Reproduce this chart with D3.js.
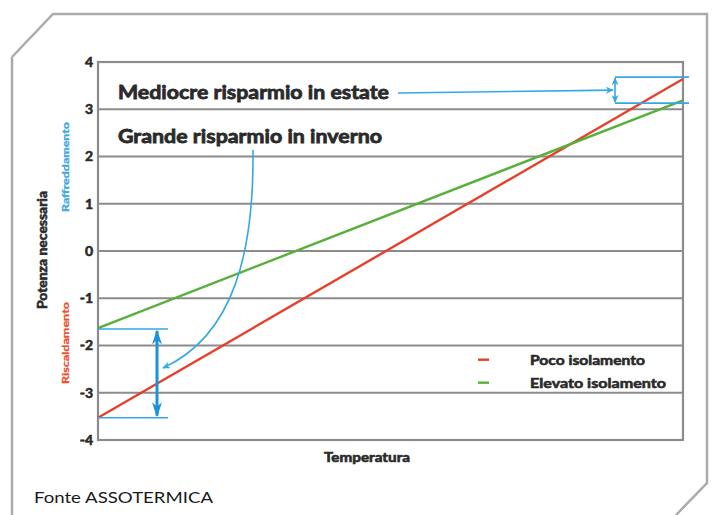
<!DOCTYPE html>
<html>
<head>
<meta charset="utf-8">
<script src="https://cdn.jsdelivr.net/npm/d3@7"></script>
<style>
  html, body { margin: 0; padding: 0; background: #fff; }
  svg { display: block; }
  text { font-family: Lato, "Open Sans", sans-serif; }
</style>
</head>
<body>
<svg id="chart" width="714" height="515"></svg>
<script>
// Temperature axis has no scale values: the two ends of each line
const temperature = [0, 1];
const pocoIsolamento = [-3.53, 3.64];
const elevatoIsolamento = [-1.63, 3.19];
const yTicks = [-4, -3, -2, -1, 0, 1, 2, 3, 4];
const seriesNames = ["Poco isolamento", "Elevato isolamento"];
const seriesColors = ["#e6402b", "#56b03a"];
// Ranges marked by the blue brackets
const summerRange = [3.13, 3.68];
const winterRange = [-3.53, -1.65];

const svg = d3.select("#chart");
const m = { left: 98, right: 683, top: 62, bottom: 440 };

const x = d3.scaleLinear().domain([0, 1]).range([m.left, m.right]);
const y = d3.scaleLinear().domain([-4, 4]).range([m.bottom, m.top]);

const blue = "#35a7e3";
const darkBlue = "#1b93d8";
const ink = "#2a2a2a";

// Heavy text: bold glyphs thickened with a thin outline of the same colour
function heavy(sel, w) {
  return sel.attr("font-weight", 700).attr("stroke", sel.attr("fill"))
    .attr("stroke-width", w).attr("paint-order", "stroke");
}

// Outer frame with chamfered corners
svg.append("path")
  .attr("d", "M12,57 L53,14 L707,14 L707,483 L676,515 M12,57 L12,515")
  .attr("fill", "none").attr("stroke", "#ababab").attr("stroke-width", 2.5);

// Horizontal gridlines
svg.append("g").selectAll("line").data(yTicks.filter(d => d > -4 && d < 4)).join("line")
  .attr("x1", m.left).attr("x2", m.right)
  .attr("y1", d => y(d)).attr("y2", d => y(d))
  .attr("stroke", "#8c8c8c").attr("stroke-width", 2.2);

// Plot frame
svg.append("rect")
  .attr("x", m.left).attr("y", m.top)
  .attr("width", m.right - m.left).attr("height", m.bottom - m.top)
  .attr("fill", "none").attr("stroke", "#8c8c8c").attr("stroke-width", 2.2);

// Y axis labels (plain hyphen for negatives)
const yAxis = d3.axisLeft(y).tickValues(yTicks).tickSize(0).tickPadding(5)
  .tickFormat(d => String(d));
const ga = svg.append("g").attr("transform", `translate(${m.left},0)`).call(yAxis);
ga.select(".domain").remove();
ga.selectAll("text")
  .attr("font-family", "Lato, sans-serif")
  .attr("font-size", 14).attr("fill", ink)
  .call(s => heavy(s, 0.6));

// Axis titles
svg.append("text")
  .attr("transform", `translate(47,250) rotate(-90)`)
  .attr("text-anchor", "middle").attr("font-size", 13)
  .attr("fill", ink).attr("textLength", 118).attr("lengthAdjust", "spacingAndGlyphs")
  .text("Potenza necessaria").call(s => heavy(s, 0.6));
svg.append("text")
  .attr("transform", `translate(69,167) rotate(-90)`)
  .attr("text-anchor", "middle").attr("font-size", 10)
  .attr("fill", "#3aa8e4").attr("textLength", 90).attr("lengthAdjust", "spacingAndGlyphs")
  .text("Raffreddamento").call(s => heavy(s, 0.3));
svg.append("text")
  .attr("transform", `translate(69,343) rotate(-90)`)
  .attr("text-anchor", "middle").attr("font-size", 10)
  .attr("fill", "#e8512f").attr("textLength", 82).attr("lengthAdjust", "spacingAndGlyphs")
  .text("Riscaldamento").call(s => heavy(s, 0.3));
svg.append("text")
  .attr("x", 367).attr("y", 462)
  .attr("text-anchor", "middle").attr("font-size", 13)
  .attr("fill", ink).attr("textLength", 86).attr("lengthAdjust", "spacingAndGlyphs")
  .text("Temperatura").call(s => heavy(s, 0.6));

// Series lines
const line = d3.line().x(d => x(d[0])).y(d => y(d[1]));
[pocoIsolamento, elevatoIsolamento].forEach((vals, i) => {
  svg.append("path")
    .datum(temperature.map((t, j) => [t, vals[j]]))
    .attr("d", line)
    .attr("fill", "none").attr("stroke", seriesColors[i]).attr("stroke-width", 2.4);
});

// Arrowhead markers
const defs = svg.append("defs");
function marker(id, color, w, h) {
  defs.append("marker").attr("id", id)
    .attr("viewBox", "0 0 10 10").attr("refX", 9).attr("refY", 5)
    .attr("markerWidth", w).attr("markerHeight", h)
    .attr("orient", "auto-start-reverse").attr("markerUnits", "userSpaceOnUse")
    .attr("preserveAspectRatio", "none")
    .append("path").attr("d", "M0,0 L10,5 L0,10 L3,5 Z").attr("fill", color);
}
marker("arrThin", blue, 8, 7);
marker("arrThick", darkBlue, 15, 10);

// Winter bracket: guides and double arrow
const wx1 = m.left, wx2 = 168, wxa = 157;
winterRange.forEach(v => {
  svg.append("line").attr("x1", wx1).attr("x2", wx2)
    .attr("y1", y(v)).attr("y2", y(v))
    .attr("stroke", blue).attr("stroke-width", 1.6);
});
svg.append("line")
  .attr("x1", wxa).attr("x2", wxa)
  .attr("y1", y(winterRange[1]) + 2).attr("y2", y(winterRange[0]) - 2)
  .attr("stroke", darkBlue).attr("stroke-width", 3)
  .attr("marker-start", "url(#arrThick)").attr("marker-end", "url(#arrThick)");

// Summer bracket at the right end
const sx1 = 615, sx2 = 689;
const sMid = (y(summerRange[0]) + y(summerRange[1])) / 2;
summerRange.forEach(v => {
  svg.append("line").attr("x1", sx1).attr("x2", sx2)
    .attr("y1", y(v)).attr("y2", y(v))
    .attr("stroke", blue).attr("stroke-width", 1.6);
});
[summerRange[1], summerRange[0]].forEach((v, i) => {
  svg.append("line")
    .attr("x1", sx1).attr("x2", sx1)
    .attr("y1", sMid).attr("y2", y(v) + (i === 0 ? 1 : -1))
    .attr("stroke", blue).attr("stroke-width", 1.6).attr("marker-end", "url(#arrThin)");
});

// Annotations
svg.append("text")
  .attr("x", 118).attr("y", 99)
  .attr("font-size", 19.5).attr("fill", ink)
  .attr("textLength", 271).attr("lengthAdjust", "spacingAndGlyphs")
  .text("Mediocre risparmio in estate").call(s => heavy(s, 0.8));
svg.append("path")
  .attr("d", `M398,93 L${sx1 - 2},${sMid}`)
  .attr("fill", "none").attr("stroke", blue).attr("stroke-width", 1.6)
  .attr("marker-end", "url(#arrThin)");

svg.append("text")
  .attr("x", 118).attr("y", 143)
  .attr("font-size", 19.5).attr("fill", ink)
  .attr("textLength", 264).attr("lengthAdjust", "spacingAndGlyphs")
  .text("Grande risparmio in inverno").call(s => heavy(s, 0.8));
svg.append("path")
  .attr("d", "M253,150 C254,250 235,335 163,368")
  .attr("fill", "none").attr("stroke", blue).attr("stroke-width", 1.6)
  .attr("marker-end", "url(#arrThin)");

// Legend
const legendWidths = [115, 136];
seriesNames.forEach((name, i) => {
  const ly = y(-2.3) + i * 23;
  svg.append("line").attr("x1", 478).attr("x2", 489).attr("y1", ly).attr("y2", ly)
    .attr("stroke", seriesColors[i]).attr("stroke-width", 2.4);
  svg.append("text").attr("x", 530).attr("y", ly + 5)
    .attr("font-size", 13.5).attr("fill", ink)
    .attr("textLength", legendWidths[i]).attr("lengthAdjust", "spacingAndGlyphs")
    .text(name).call(s => heavy(s, 0.6));
});

// Source
svg.append("text")
  .attr("x", 34).attr("y", 503)
  .attr("font-family", "'Open Sans', sans-serif").attr("font-size", 15)
  .attr("fill", "#1a1a1a").attr("textLength", 179).attr("lengthAdjust", "spacingAndGlyphs")
  .text("Fonte ASSOTERMICA");
</script>
</body>
</html>
